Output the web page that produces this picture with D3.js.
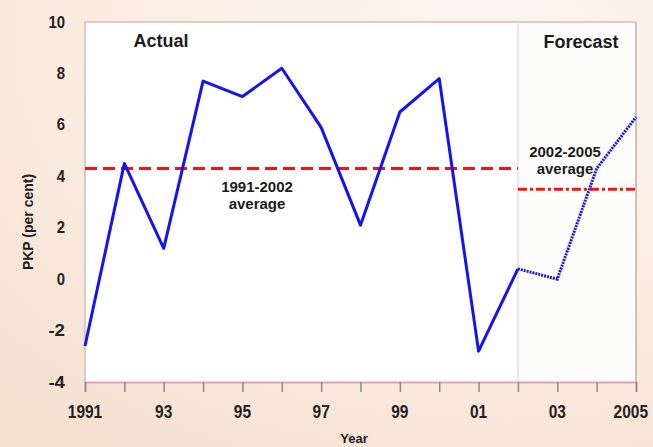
<!DOCTYPE html>
<html>
<head>
<meta charset="utf-8">
<script src="https://cdn.jsdelivr.net/npm/d3@7"></script>
<style>
    body { margin: 0; padding: 0; background: #ffffff; }
    svg  { display: block; }
</style>
</head>
<body>
<div id="graph"></div>
<script>

// The data...
var actualYears    = [ 1991, 1992, 1993, 1994, 1995, 1996, 1997, 1998, 1999, 2000, 2001, 2002 ];
var actualValues   = [ -2.6, 4.5, 1.2, 7.7, 7.1, 8.2, 5.9, 2.1, 6.5, 7.8, -2.8, 0.4 ];

var forecastYears  = [ 2002, 2003, 2004, 2005 ];
var forecastValues = [ 0.4, 0.0, 4.3, 6.3 ];

var avgActual      = [ 1991, 2002, 4.3 ];   // from, to, value
var avgForecast    = [ 2002, 2005, 3.5 ];

var xTickValues    = [ 1991, 1993, 1995, 1997, 1999, 2001, 2003, 2005 ];
var xTickLabels    = [ '1991', '93', '95', '97', '99', '01', '03', '2005' ];
var yTickValues    = [ -4, -2, 0, 2, 4, 6, 8, 10 ];
var yTickLabels    = [ '-4', '-2', '0', '2', '4', '6', '8', '10' ];


function D3App ()
{
    var W = 653, H = 447;

    var margin = {
            top:    22,
            right:  17,
            bottom: 65,
            left:   85
    };

    var width  = W - margin.left - margin.right;
    var height = H - margin.top - margin.bottom;

    var sans   = "'Liberation Sans', Arial, sans-serif";

    var svg = d3.select ('#graph').append ('svg')
                .attr ('width', W)
                .attr ('height', H);

    // background gradient (peach)
    var defs = svg.append ('defs');
    var grad = defs.append ('radialGradient')
                   .attr ('id', 'bgGrad')
                   .attr ('cx', '75%').attr ('cy', '10%').attr ('r', '110%');
    grad.append ('stop').attr ('offset', '0%').attr ('stop-color', '#fdf6f1');
    grad.append ('stop').attr ('offset', '60%').attr ('stop-color', '#faebe0');
    grad.append ('stop').attr ('offset', '100%').attr ('stop-color', '#f5e0cf');

    svg.append ('rect')
       .attr ('width', W).attr ('height', H)
       .attr ('fill', 'url(#bgGrad)');

    var g = svg.append ('g')
               .attr ('transform', 'translate(' + margin.left + ',' + margin.top + ')');

    var xScale = d3.scaleLinear ()
                   .domain ([ 1991, 2005 ])
                   .range ([ 0, width ]);

    var yScale = d3.scaleLinear ()
                   .domain ([ -4, 10 ])
                   .range ([ height, 0 ]);

    // plot area
    g.append ('rect')
     .attr ('width', width).attr ('height', height)
     .attr ('fill', '#fefefe');

    g.append ('rect')
     .attr ('x', xScale (2002)).attr ('width', width - xScale (2002))
     .attr ('height', height)
     .attr ('fill', '#fcfcfb');

    // borders
    g.append ('line')
     .attr ('x1', 0).attr ('x2', width).attr ('y1', 0).attr ('y2', 0)
     .attr ('stroke', '#e8c8c4').attr ('stroke-width', 2);
    g.append ('line')
     .attr ('x1', width).attr ('x2', width).attr ('y1', 0).attr ('y2', height)
     .attr ('stroke', '#b8b0b0').attr ('stroke-width', 1.5);
    g.append ('line')
     .attr ('x1', 0).attr ('x2', 0).attr ('y1', 0).attr ('y2', height)
     .attr ('stroke', '#e6c6bc').attr ('stroke-width', 2);

    // 2002 divider
    g.append ('line')
     .attr ('x1', xScale (2002)).attr ('x2', xScale (2002))
     .attr ('y1', 0).attr ('y2', height)
     .attr ('stroke', '#e8e8ec').attr ('stroke-width', 2);

    // X axis
    var xAxis = d3.axisBottom (xScale)
                  .tickValues (d3.range (1991, 2006))
                  .tickSize (10)
                  .tickFormat ('');

    var xg = g.append ('g')
              .attr ('transform', 'translate(0,' + height + ')')
              .call (xAxis);
    xg.select ('.domain').attr ('stroke', '#e4a4ac').attr ('stroke-width', 2);
    xg.selectAll ('.tick line').attr ('stroke', '#8a8a8a').attr ('stroke-width', 1.5);

    // narrow bold labels, squeezed with textLength
    var lastTick = xTickValues.length - 1;
    xg.selectAll ('.lbl')
      .data (xTickValues)
      .enter ()
      .append ('text')
      .attr ('class', 'lbl')
      .attr ('x', function (d, i) { return i == lastTick ? W - margin.left - 5 : xScale (d); })
      .attr ('y', 36)
      .attr ('text-anchor', function (d, i) { return i == lastTick ? 'end' : 'middle'; })
      .attr ('font-family', sans)
      .attr ('font-weight', 'bold')
      .attr ('font-size', '18px')
      .attr ('fill', '#222')
      .attr ('textLength', function (d, i) { return xTickLabels[i].length * 8.6; })
      .attr ('lengthAdjust', 'spacingAndGlyphs')
      .text (function (d, i) { return xTickLabels[i]; });

    // Y axis
    var yAxis = d3.axisLeft (yScale)
                  .tickValues (yTickValues)
                  .tickSize (0)
                  .tickPadding (20)
                  .tickFormat (function (d, i) { return yTickLabels[i]; });

    var yg = g.append ('g').call (yAxis);
    yg.select ('.domain').remove ();
    yg.selectAll ('text')
      .attr ('font-family', sans)
      .attr ('font-weight', 'bold')
      .attr ('font-size', '16px')
      .attr ('fill', '#222')
      .attr ('textLength', function (d, i) { return yTickLabels[i].length * 8.3; })
      .attr ('lengthAdjust', 'spacingAndGlyphs');

    // average lines
    g.append ('line')
     .attr ('x1', xScale (avgActual[0])).attr ('x2', xScale (avgActual[1]))
     .attr ('y1', yScale (avgActual[2])).attr ('y2', yScale (avgActual[2]))
     .attr ('stroke', '#ff1010').attr ('stroke-width', 3)
     .attr ('stroke-dasharray', '12,6');

    g.append ('line')
     .attr ('x1', xScale (avgForecast[0])).attr ('x2', xScale (avgForecast[1]))
     .attr ('y1', yScale (avgForecast[2])).attr ('y2', yScale (avgForecast[2]))
     .attr ('stroke', '#ff1010').attr ('stroke-width', 3)
     .attr ('stroke-dasharray', '9,3,3,3');

    // series lines
    var line = d3.line ()
                 .x (function (d) { return xScale (d[0]); })
                 .y (function (d) { return yScale (d[1]); });

    g.append ('path')
     .datum (d3.zip (actualYears, actualValues))
     .attr ('d', line)
     .attr ('fill', 'none')
     .attr ('stroke', '#1414f0')
     .attr ('stroke-width', 3)
     .attr ('stroke-linejoin', 'round');

    g.append ('path')
     .datum (d3.zip (forecastYears, forecastValues))
     .attr ('d', line)
     .attr ('fill', 'none')
     .attr ('stroke', '#1818d8')
     .attr ('stroke-width', 3)
     .attr ('stroke-dasharray', '2,1');

    // annotation texts
    var addText = function (x, y, str, size)
    {
        svg.append ('text')
           .attr ('x', x).attr ('y', y)
           .attr ('text-anchor', 'middle')
           .attr ('font-family', sans)
           .attr ('font-weight', 'bold')
           .attr ('font-size', size)
           .attr ('fill', '#1c1c1c')
           .text (str);
    };

    addText (161, 47, 'Actual', '18px');
    addText (581, 48, 'Forecast', '18px');
    addText (257, 192, '1991-2002', '15px');
    addText (257, 209, 'average', '15px');
    addText (565, 157, '2002-2005', '15px');
    addText (565, 174, 'average', '15px');

    // axis titles
    svg.append ('text')
       .attr ('transform', 'translate(33,222) rotate(-90)')
       .attr ('text-anchor', 'middle')
       .attr ('font-family', sans)
       .attr ('font-weight', 'bold')
       .attr ('font-size', '14px')
       .attr ('fill', '#1c1c1c')
       .text ('PKP (per cent)');

    svg.append ('text')
       .attr ('x', 354).attr ('y', 443)
       .attr ('text-anchor', 'middle')
       .attr ('font-family', sans)
       .attr ('font-weight', 'bold')
       .attr ('font-size', '13px')
       .attr ('fill', '#1c1c1c')
       .text ('Year');

} // D3App

D3App ();

</script>
</body>
</html>
